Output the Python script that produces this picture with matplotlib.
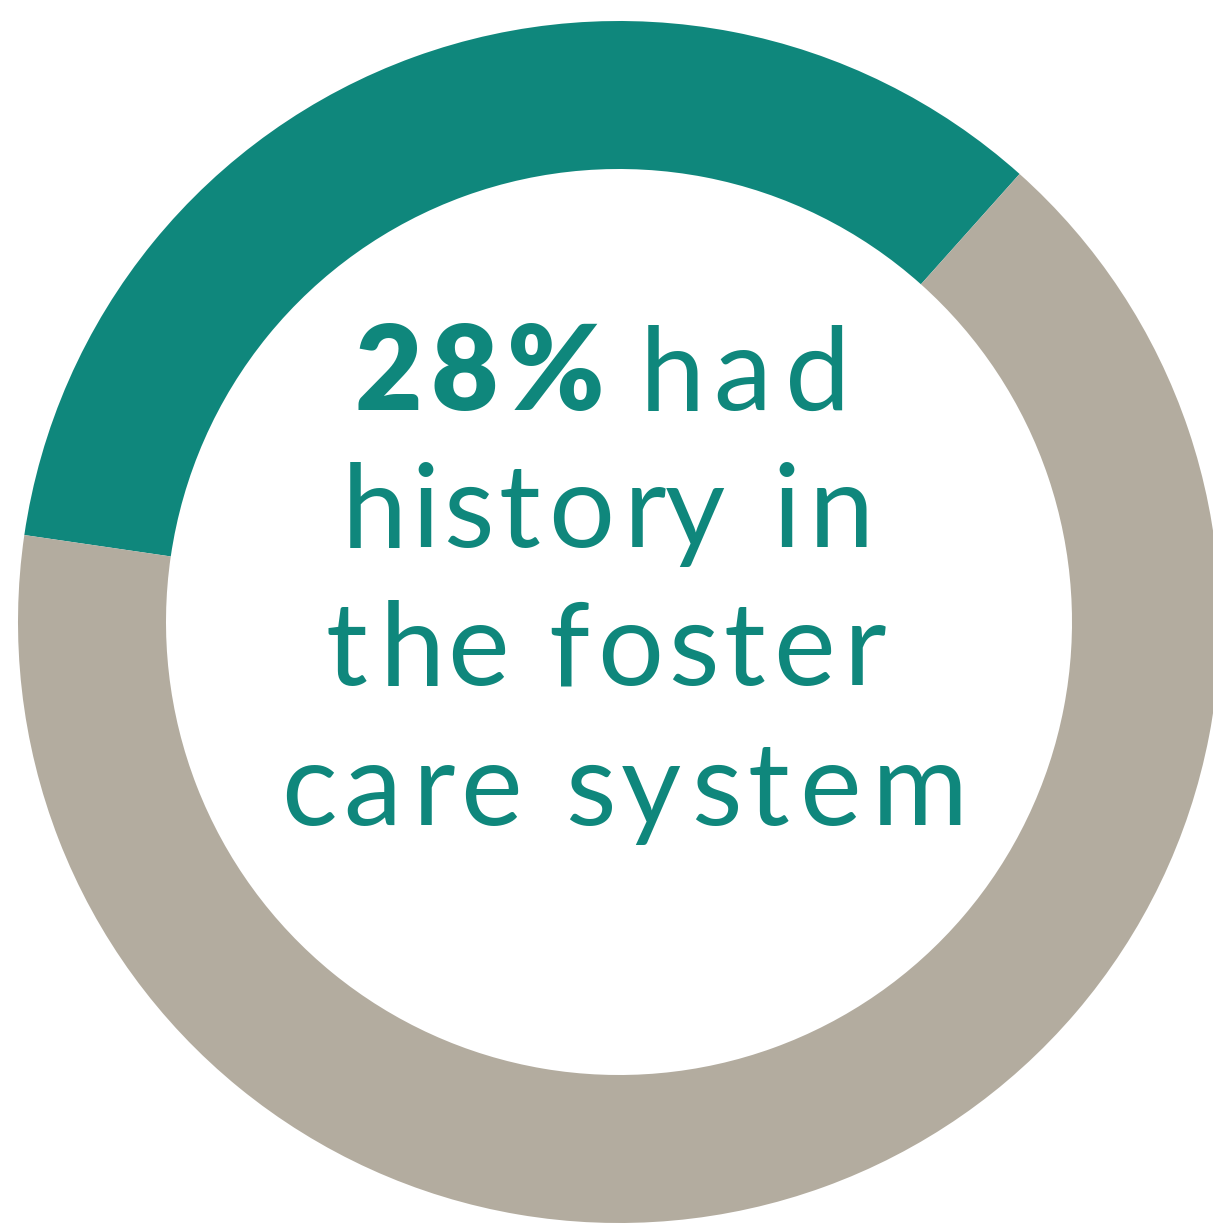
import matplotlib.pyplot as plt
from matplotlib import font_manager as fm
from matplotlib.ft2font import FT2Font

# ring shares as drawn (teal arc, grey remainder)
segments = ["history in foster care", "other"]
shares = [34.3, 65.7]
colors = ["#0F877C", "#B3AC9F"]

headline = "28%"
lines = ["had", "history in", "the foster", "care system"]

TEAL = "#0F877C"
W, H = 1213, 1231
DPI = 100
FS = 84

fig = plt.figure(figsize=(W / DPI, H / DPI), dpi=DPI)
ax = fig.add_axes([0, 0, 1, 1])

cx, cy = 619, H - 622
r_out, r_in = 601, 453
ax.pie(shares, colors=colors, radius=r_out, center=(cx, cy),
       startangle=48.2, counterclock=True, frame=True,
       wedgeprops=dict(width=r_out - r_in, linewidth=0))
ax.set_xlim(0, W)
ax.set_ylim(0, H)
ax.set_aspect("equal")
ax.axis("off")


def tracked(s, left, right, base, weight="normal"):
    # wide letter spacing like the original typeface
    prop = fm.FontProperties(family="Lato", weight=weight)
    ft = FT2Font(fm.findfont(prop))
    ft.set_size(FS, DPI)
    glyphs = [ft.load_char(ord(c)) for c in s]
    adv = [g.linearHoriAdvance / 65536 for g in glyphs]
    natural = sum(adv[:-1]) + (glyphs[-1].horiBearingX + glyphs[-1].width) / 64
    track = (right - left - natural) / max(len(s) - 1, 1)
    x = left - glyphs[0].horiBearingX / 64
    for c, g, a in zip(s, glyphs, adv):
        if c != " ":
            ax.text(x + g.horiBearingX / 64, H - base, c, ha="left", va="baseline",
                    fontsize=FS, color=TEAL, fontproperties=prop)
        x += a + track


tracked(headline, 355, 600, 410, weight="heavy")
tracked(lines[0], 640, 845, 410)
tracked(lines[1], 342, 866, 547)
tracked(lines[2], 326, 880, 685)
tracked(lines[3], 281, 957, 825)

fig.savefig("out.png", dpi=DPI)
